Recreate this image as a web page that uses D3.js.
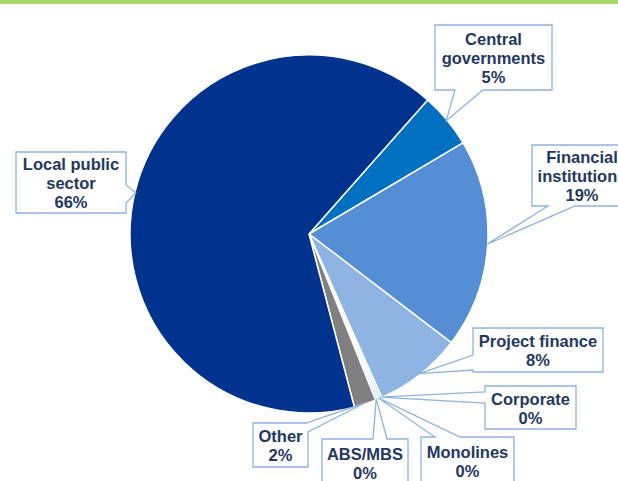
<!DOCTYPE html>
<html>
<head>
<meta charset="utf-8">
<script src="https://cdn.jsdelivr.net/npm/d3@7"></script>
<style>
  body { margin: 0; background: #fff; }
  svg { display: block; }
  .lbl { font-family: "Liberation Sans", Arial, sans-serif; font-weight: bold; font-size: 16.5px; fill: #1f3864; }
</style>
</head>
<body>
<svg id="chart" width="618" height="481"></svg>
<script>
// data, in drawing order (clockwise from the first slice)
var categories = ["Central governments", "Financial institutions", "Project finance",
                  "Corporate", "Monolines", "ABS/MBS", "Other", "Local public sector"];
var shares = [5, 19, 8, 0.2, 0.2, 0.2, 2, 66];
var colors = ["#0070c0", "#558ed5", "#8db4e2", "#a9c6ea", "#a9c6ea", "#a9c6ea", "#808080", "#00338d"];

// callout layout: text lines, box, wedge base (side, offset) pairs
var layout = [
  { lines: ["Central", "governments"], box: {x: 435, y: 25, w: 117, h: 65}, wedge: [["bottom", 20], ["bottom", 48]] },
  { lines: ["Financial", "institutions"], box: {x: 532, y: 145, w: 100, h: 61}, wedge: [["bottom", 16], ["bottom", 43]] },
  { lines: ["Project finance"], box: {x: 473, y: 328, w: 130, h: 44}, wedge: [["left", 27], ["left", 42]] },
  { lines: ["Corporate"], box: {x: 485, y: 386, w: 91, h: 43}, wedge: [["left", 6], ["left", 17]] },
  { lines: ["Monolines"], box: {x: 421, y: 437, w: 93, h: 48}, wedge: [["top", 14], ["top", 39]] },
  { lines: ["ABS/MBS"], box: {x: 322, y: 439, w: 86, h: 47}, wedge: [["top", 51], ["top", 65]] },
  { lines: ["Other"], box: {x: 253, y: 423, w: 55, h: 44}, wedge: [["top", 53], ["right", 9]] },
  { lines: ["Local public", "sector"], box: {x: 16, y: 152, w: 110, h: 61}, wedge: [["right", 33], ["right", 51]] }
];

var svg = d3.select("#chart");
var cx = 309, cy = 234, r = 179;

// top green band
svg.append("rect").attr("x", 0).attr("y", 0).attr("width", 618).attr("height", 4).attr("fill", "#a6d86e");

var pie = d3.pie().sort(null).value(function(d) { return d; })
  .startAngle(41.5 * Math.PI / 180)
  .endAngle(41.5 * Math.PI / 180 + 2 * Math.PI);
var arcs = pie(shares);
var arc = d3.arc().innerRadius(0).outerRadius(r);
var edgeArc = d3.arc().innerRadius(r - 1).outerRadius(r - 1);

var g = svg.append("g").attr("transform", "translate(" + cx + "," + cy + ")");
g.selectAll("path.slice")
  .data(arcs)
  .enter().append("path")
    .attr("class", "slice")
    .attr("d", arc)
    .attr("fill", function(d, i) { return colors[i]; })
    .attr("stroke", "#fff")
    .attr("stroke-width", 1.5)
    .attr("stroke-linejoin", "round");

// callouts
function edgeT(b, side, off) {
  if (side == "top") return off;
  if (side == "right") return b.w + off;
  if (side == "bottom") return b.w + b.h + (b.w - off);
  return 2 * b.w + b.h + (b.h - off);
}
function pointAt(b, t) {
  if (t <= b.w) return [b.x + t, b.y];
  if (t <= b.w + b.h) return [b.x + b.w, b.y + t - b.w];
  if (t <= 2 * b.w + b.h) return [b.x + b.w - (t - b.w - b.h), b.y + b.h];
  return [b.x, b.y + b.h - (t - 2 * b.w - b.h)];
}
function calloutPath(b, wedge, tip) {
  var ts = [edgeT(b, wedge[0][0], wedge[0][1]), edgeT(b, wedge[1][0], wedge[1][1])].sort(function(a, c) { return a - c; });
  var t1 = ts[0], t2 = ts[1];
  var corners = [b.w, b.w + b.h, 2 * b.w + b.h];
  var pts = [pointAt(b, 0)], done = false;
  corners.forEach(function(c) {
    if (!done && t1 <= c) { pts.push(pointAt(b, t1), tip, pointAt(b, t2)); done = true; }
    if (c > t2 || c < t1) pts.push(pointAt(b, c));
  });
  if (!done) pts.push(pointAt(b, t1), tip, pointAt(b, t2));
  return "M" + pts.map(function(p) { return p[0] + "," + p[1]; }).join("L") + "Z";
}

var labels = svg.selectAll("g.callout")
  .data(arcs)
  .enter().append("g")
    .attr("class", "callout");

labels.append("path")
  .attr("d", function(d, i) {
    var c = edgeArc.centroid(d);
    return calloutPath(layout[i].box, layout[i].wedge, [cx + c[0], cy + c[1]]);
  })
  .attr("fill", "#fff")
  .attr("stroke", "#8db3e2")
  .attr("stroke-width", 1.3)
  .attr("stroke-linejoin", "miter");

labels.each(function(d, i) {
  var L = layout[i], b = L.box;
  var lines = L.lines.concat([Math.round(shares[i]) + "%"]);
  var lh = 19;
  var y0 = b.y + b.h / 2 + 1 - (lines.length - 1) * lh / 2;
  var t = d3.select(this).append("text")
    .attr("class", "lbl")
    .attr("text-anchor", "middle");
  lines.forEach(function(s, k) {
    t.append("tspan")
      .attr("x", b.x + b.w / 2)
      .attr("y", y0 + k * lh)
      .attr("dy", "0.36em")
      .text(s);
  });
});
</script>
</body>
</html>
